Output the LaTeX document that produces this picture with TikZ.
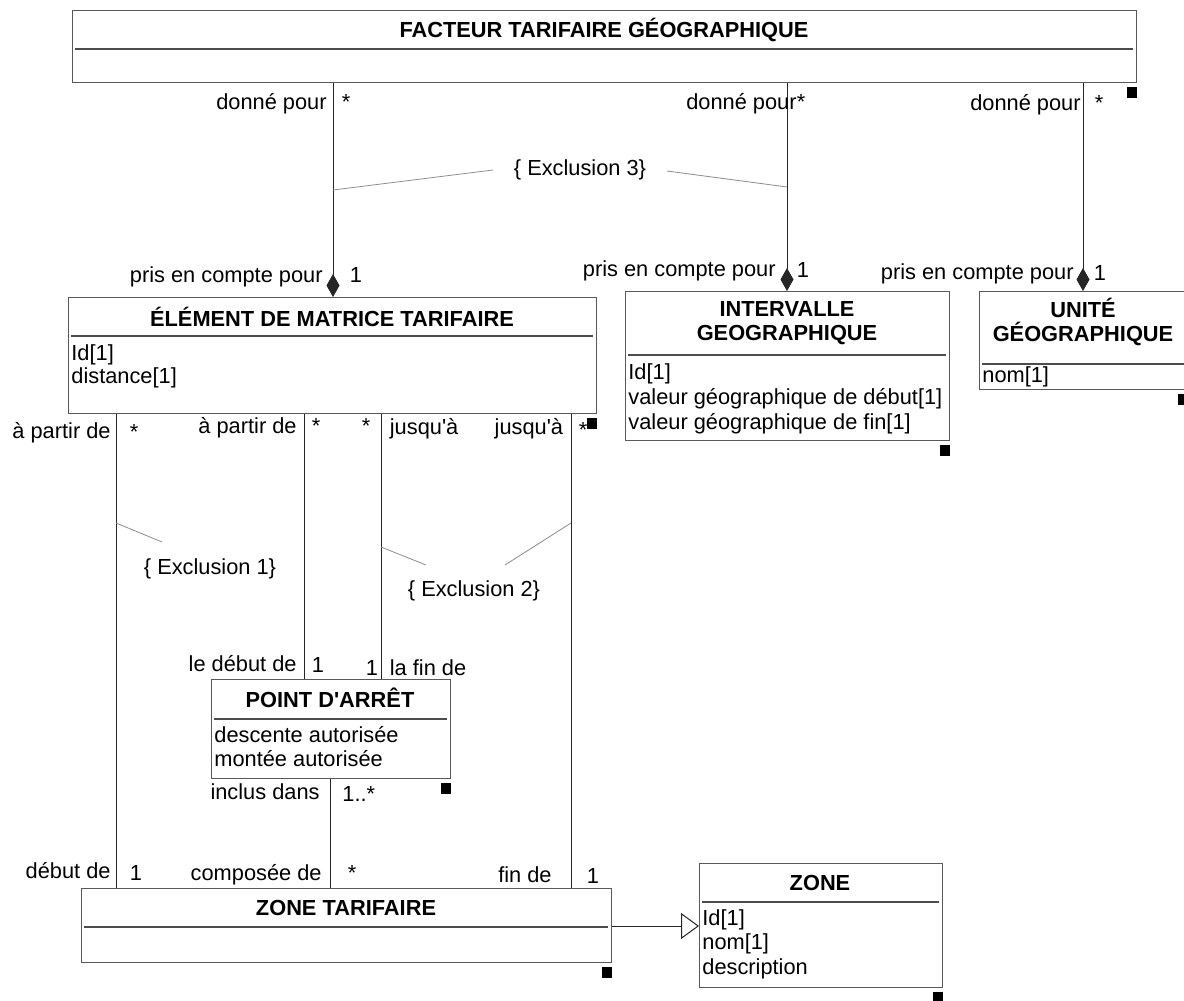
\documentclass[tikz,border=0pt]{standalone}
\usepackage{fontspec}
\setmainfont{Liberation Sans}
\usetikzlibrary{arrows.meta}

\begin{document}
\begin{tikzpicture}[x=0.5pt, y=-0.5pt,
    font=\fontsize{10.9}{12.8}\selectfont,
    box/.style={draw=black!65, line width=0.6pt, inner sep=0pt, anchor=north west},
    sep/.style={black!70, line width=0.6pt},
    title/.style={font=\fontsize{10.9}{11.7}\selectfont\bfseries, align=center, inner sep=0pt},
    attr/.style={anchor=west, inner sep=0pt},
    role/.style={anchor=base east, inner sep=0pt},
    rolew/.style={anchor=base west, inner sep=0pt},
    mult/.style={anchor=base, inner sep=0pt},
    assoc/.style={black!85, line width=0.5pt},
    constr/.style={black!45, line width=0.4pt}]

    \path[fill=white, use as bounding box] (0,0) rectangle (1184,1001);

    % Class boxes
    \node[box, minimum width=532pt, minimum height=36pt] (fac) at (72,10) {};
    \node[box, minimum width=264pt, minimum height=58pt] (em) at (68,297) {};
    \node[box, minimum width=162pt, minimum height=74.5pt] (iv) at (625,291) {};
    \node[box, minimum width=104pt, minimum height=49pt] (un) at (979,291) {};
    \node[box, minimum width=119.5pt, minimum height=49.5pt] (pa) at (211,679) {};
    \node[box, minimum width=265pt, minimum height=37pt] (zt) at (81,888) {};
    \node[box, minimum width=121.5pt, minimum height=62pt] (zone) at (699,863) {};

    % Separators
    \draw[sep] (75,49) -- (1133,49);
    \draw[sep] (71,336) -- (593,336);
    \draw[sep] (628,355) -- (946,355);
    \draw[sep] (982,364) -- (1187,364);
    \draw[sep] (214,719) -- (447,719);
    \draw[sep] (84,927) -- (608,927);
    \draw[sep] (702,902) -- (939,902);

    % Titles
    \node[title] (facT) at (604,30) {FACTEUR TARIFAIRE GÉOGRAPHIQUE};
    \node[title] (emT) at (332,317) {ÉLÉMENT DE MATRICE TARIFAIRE};
    \node[title] (ivT) at (787,323) {INTERVALLE\\GEOGRAPHIQUE};
    \node[title] (unT) at (1083,322) {UNITÉ\\GÉOGRAPHIQUE};
    \node[title] (paT) at (330,698) {POINT D\textquotesingle ARRÊT};
    \node[title] (ztT) at (346,908) {ZONE TARIFAIRE};
    \node[title] (zoneT) at (820,883) {ZONE};

    % Attributes
    \node[attr] (emA1) at (71,355) {Id[1]};
    \node[attr] (emA2) at (71,378) {distance[1]};
    \node[attr] (ivA1) at (628,374) {Id[1]};
    \node[attr] (ivA2) at (628,399) {valeur géographique de début[1]};
    \node[attr] (ivA3) at (628,424) {valeur géographique de fin[1]};
    \node[attr] (unA1) at (982,377) {nom[1]};
    \node[attr] (paA1) at (214,735) {descente autorisée};
    \node[attr] (paA2) at (214,759) {montée autorisée};
    \node[attr] (zoneA1) at (702,920) {Id[1]};
    \node[attr] (zoneA2) at (702,944) {nom[1]};
    \node[attr] (zoneA3) at (702,969) {description};

    % Associations
    \draw[assoc, -{Diamond[length=11.5pt,width=6.5pt]}] (fac.south -| 333,0) -- (em.north -| 333,0);
    \draw[assoc, -{Diamond[length=11.5pt,width=6.5pt]}] (fac.south -| 787,0) -- (iv.north -| 787,0);
    \draw[assoc, -{Diamond[length=11.5pt,width=6.5pt]}] (fac.south -| 1083,0) -- (un.north -| 1083,0);
    \draw[assoc] (em.south -| 116,0) -- (zt.north -| 116,0);
    \draw[assoc] (em.south -| 304.5,0) -- (pa.north -| 304.5,0);
    \draw[assoc] (em.south -| 381,0) -- (pa.north -| 381,0);
    \draw[assoc] (em.south -| 571,0) -- (zt.north -| 571,0);
    \draw[assoc] (pa.south -| 330,0) -- (zt.north -| 330,0);
    \draw[assoc, -{Triangle[open, length=9pt, width=13pt]}] (zt.east |- 0,926) -- (zone.west |- 0,926);

    % Role names and multiplicities
    \node[role] (r1) at (327,109) {donné pour};
    \node[mult] (m1) at (346,109) {*};
    \node[role] (r2) at (797,109) {donné pour};
    \node[mult] (m2) at (801,109) {*};
    \node[role] (r3) at (1081,110) {donné pour};
    \node[mult] (m3) at (1099,110) {*};
    \node[role] (r4) at (323,282) {pris en compte pour};
    \node[mult] (m4) at (356,282) {1};
    \node[role] (r5) at (776,276) {pris en compte pour};
    \node[mult] (m5) at (803,277) {1};
    \node[role] (r6) at (1074,279) {pris en compte pour};
    \node[mult] (m6) at (1100,280) {1};

    \node[role] (r7) at (111,438) {à partir de};
    \node[mult] (m7) at (134,439) {*};
    \node[role] (r8) at (297,433) {à partir de};
    \node[mult] (m8) at (316,433) {*};
    \node[mult] (m9) at (366,433) {*};
    \node[rolew] (r9) at (389.5,434) {jusqu\textquotesingle à};
    \node[role] (r10) at (563.5,434) {jusqu\textquotesingle à};
    \node[mult] (m10) at (583,437) {*};

    \node[role] (r11) at (297,671) {le début de};
    \node[mult] (m11) at (318,672) {1};
    \node[mult] (m12) at (372,675) {1};
    \node[rolew] (r12) at (389.5,675) {la fin de};
    \node[role] (r13) at (320,799) {inclus dans};
    \node[rolew] (m13) at (342,801) {1..*};

    \node[role] (r14) at (111,878) {début de};
    \node[mult] (m14) at (136,880) {1};
    \node[role] (r15) at (322,880) {composée de};
    \node[mult] (m15) at (352,880) {*};
    \node[role] (r16) at (552,882) {fin de};
    \node[mult] (m16) at (593,883) {1};

    % Constraints
    \node (ex3) at (580,170) {\{ Exclusion 3\}};
    \node (ex1) at (210,569) {\{ Exclusion 1\}};
    \node (ex2) at (474,591) {\{ Exclusion 2\}};

    \coordinate (x3a) at (333,190);
    \coordinate (x3b) at (493,170);
    \coordinate (x3c) at (667,171);
    \coordinate (x3d) at (787,187);
    \coordinate (x1a) at (116,523);
    \coordinate (x1b) at (162,542);
    \coordinate (x2a) at (381,547);
    \coordinate (x2b) at (426,565);
    \coordinate (x2c) at (505,565);
    \coordinate (x2d) at (571,523);
    \draw[constr] (x3a) -- (x3b);
    \draw[constr] (x3c) -- (x3d);
    \draw[constr] (x1a) -- (x1b);
    \draw[constr] (x2a) -- (x2b);
    \draw[constr] (x2c) -- (x2d);

    % Handles
    \fill ([yshift=-2pt]fac.south east) rectangle ++(-10,11);
    \fill ([yshift=-2pt]em.south east) rectangle ++(-10,11);
    \fill ([yshift=-2pt]iv.south east) rectangle ++(-10,11);
    \fill ([yshift=-2pt]un.south east) rectangle ++(-10,11);
    \fill ([yshift=-2pt]pa.south east) rectangle ++(-10,11);
    \fill ([yshift=-2pt]zt.south east) rectangle ++(-10,11);
    \fill ([yshift=-2pt]zone.south east) rectangle ++(-10,11);
\end{tikzpicture}
\end{document}
